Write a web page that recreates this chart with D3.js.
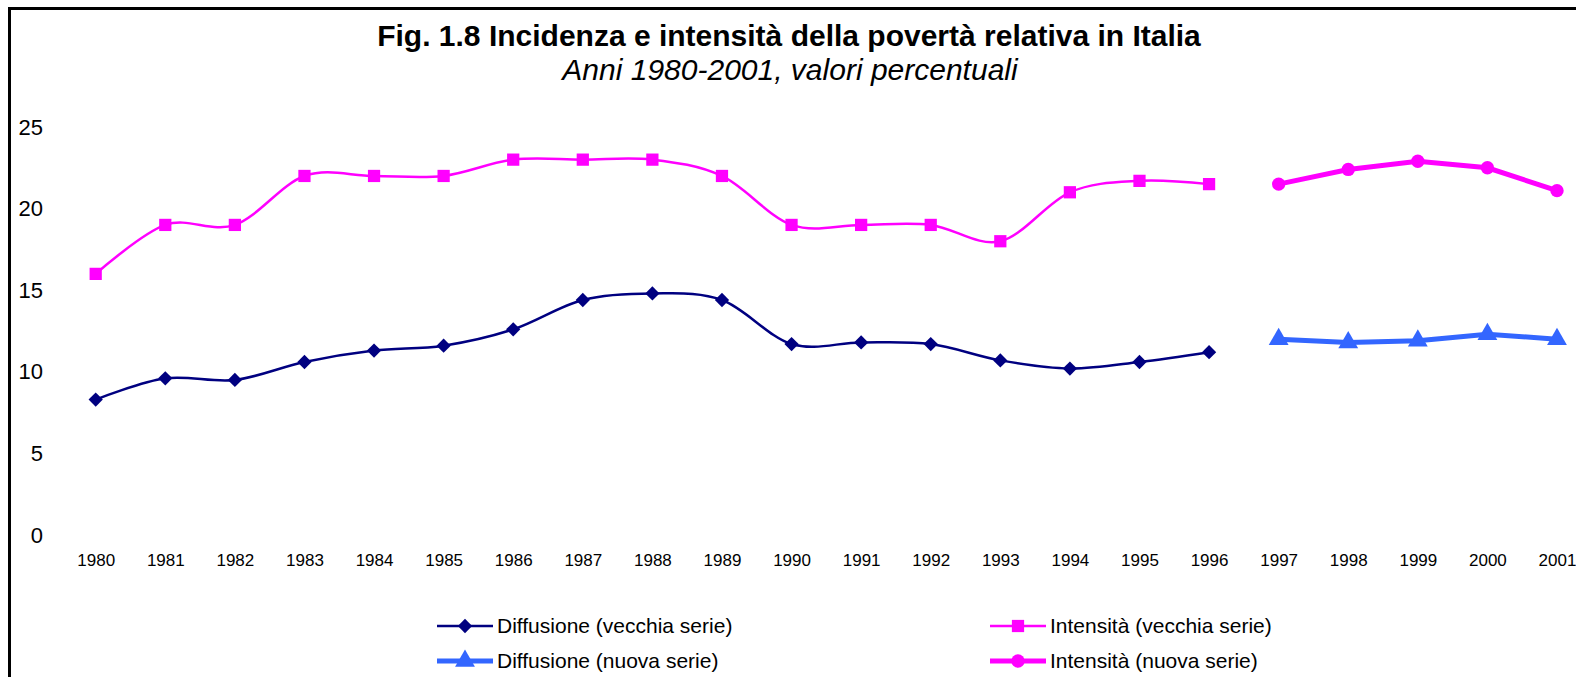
<!DOCTYPE html>
<html><head><meta charset="utf-8">
<script src="https://cdn.jsdelivr.net/npm/d3@7"></script>
<style>body{margin:0;background:#fff}svg{display:block}text{font-family:"Liberation Sans",Arial,sans-serif}</style>
</head><body><svg id="c" width="1576" height="677"></svg>
<script>
const years = d3.range(1980, 2002).map(String);
const yTicks = [0, 5, 10, 15, 20, 25];
const oldYears = d3.range(1980, 1997).map(String);
const newYears = d3.range(1997, 2002).map(String);
const diffOld = [8.3, 9.6, 9.5, 10.6, 11.3, 11.6, 12.6, 14.4, 14.8, 14.4, 11.7, 11.8, 11.7, 10.7, 10.2, 10.6, 11.2];
const intOld  = [16, 19, 19, 22, 22, 22, 23, 23, 23, 22, 19, 19, 19, 18, 21, 21.7, 21.5];
const diffNew = [12.0, 11.8, 11.9, 12.3, 12.0];
const intNew  = [21.5, 22.4, 22.9, 22.5, 21.1];
const seriesNames = ["Diffusione (vecchia serie)", "Intensità (vecchia serie)", "Diffusione (nuova serie)", "Intensità (nuova serie)"];

const svg = d3.select("#c");
const NAVY = "#000080", MAG = "#FF00FF", BLUE = "#3366FF";

svg.append("rect").attr("x", 9.5).attr("y", 8.5).attr("width", 1600).attr("height", 700)
  .attr("fill", "none").attr("stroke", "#000").attr("stroke-width", 3);

svg.append("text").attr("x", 789).attr("y", 46).attr("text-anchor", "middle")
  .attr("font-size", 30).attr("font-weight", "bold").text("Fig. 1.8 Incidenza e intensità della povertà relativa in Italia");
svg.append("text").attr("x", 790).attr("y", 80).attr("text-anchor", "middle")
  .attr("font-size", 30).attr("font-style", "italic").text("Anni 1980-2001, valori percentuali");

const x = d3.scalePoint().domain(years).range([95.7, 1557]);
const y = d3.scaleLinear().domain([0, 25]).range([535, 127]);

const yAxis = svg.append("g").attr("transform", "translate(43,0)")
  .call(d3.axisLeft(y).tickValues(yTicks).tickSize(0).tickPadding(0));
yAxis.select(".domain").remove();
yAxis.selectAll("text").attr("font-size", 22).attr("font-family", "Liberation Sans, Arial, sans-serif").attr("fill", "#000");

const xAxis = svg.append("g").attr("transform", "translate(0,566)")
  .call(d3.axisBottom(x).tickSize(0).tickPadding(0));
xAxis.select(".domain").remove();
xAxis.selectAll("text").attr("font-size", 17).attr("dy", 0).attr("font-family", "Liberation Sans, Arial, sans-serif").attr("fill", "#000");

function pts(ys, vals) { return ys.map((yr, i) => [x(yr), y(vals[i])]); }
const smooth = d3.line().curve(d3.curveCardinal.tension(0));
const straight = d3.line();

const sym = {
  diamond: d3.symbol().type(d3.symbolDiamond2).size(130),
  square: d3.symbol().type(d3.symbolSquare).size(150),
  triangle: d3.symbol().type(d3.symbolTriangle).size(170),
  circle: d3.symbol().type(d3.symbolCircle).size(140)
};

function drawSeries(p, color, width, curve, symbol) {
  svg.append("path").attr("d", curve(p)).attr("fill", "none").attr("stroke", color).attr("stroke-width", width);
  svg.append("g").selectAll("path").data(p).join("path")
    .attr("transform", d => `translate(${d[0]},${d[1]})`).attr("d", symbol).attr("fill", color);
}
drawSeries(pts(oldYears, intOld), MAG, 2.5, smooth, sym.square);
drawSeries(pts(oldYears, diffOld), NAVY, 2.5, smooth, sym.diamond);
drawSeries(pts(newYears, intNew), MAG, 5, straight, sym.circle);
drawSeries(pts(newYears, diffNew), BLUE, 5, straight, sym.triangle);

const legend = [
  {name: seriesNames[0], color: NAVY, w: 2.5, s: sym.diamond, x: 437, y: 626},
  {name: seriesNames[1], color: MAG, w: 2.5, s: sym.square, x: 990, y: 626},
  {name: seriesNames[2], color: BLUE, w: 5, s: sym.triangle, x: 437, y: 661},
  {name: seriesNames[3], color: MAG, w: 5, s: sym.circle, x: 990, y: 661}
];
const lg = svg.append("g").selectAll("g").data(legend).join("g")
  .attr("transform", d => `translate(${d.x},${d.y})`);
lg.append("line").attr("x1", 0).attr("x2", 56).attr("stroke", d => d.color).attr("stroke-width", d => d.w);
lg.append("path").attr("transform", "translate(28,0)").attr("d", d => d.s()).attr("fill", d => d.color);
lg.append("text").attr("x", 60).attr("dy", "0.35em").attr("font-size", 21).text(d => d.name);
</script></body></html>
